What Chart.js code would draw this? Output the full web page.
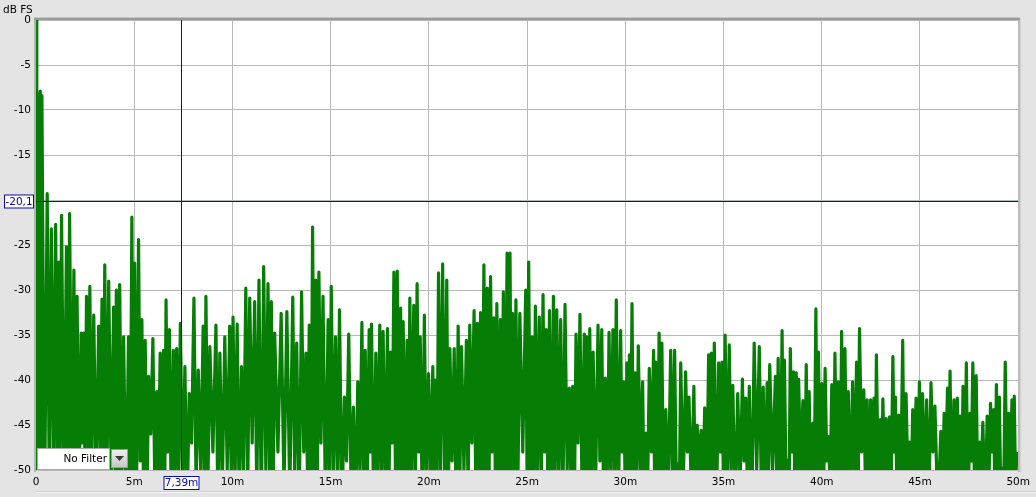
<!DOCTYPE html>
<html>
<head>
<meta charset="utf-8">
<script src="https://cdn.jsdelivr.net/npm/chart.js@4.4.1/dist/chart.umd.min.js"></script>
<style>
  html, body { margin: 0; padding: 0; background: #e4e4e4; }
  #wrap { position: relative; width: 1036px; height: 497px; }
</style>
</head>
<body>
<div id="wrap"><canvas id="irChart"></canvas></div>
<script>
const yUnit = 'dB FS';
const filterText = 'No Filter';
const cursorMs = 7.39;
const cursorDb = -20.1;
const cursorMsText = '7,39m';
const cursorDbText = '-20,1';

// time of each visible spike tip (ms)
const peakMs = [
    0.00, 0.08, 0.15, 0.22, 0.30,
    0.57, 0.78, 1.00, 1.17, 1.30, 1.55, 1.71, 1.93, 2.09, 2.30,
    2.43, 2.57, 2.74, 2.94, 3.19, 3.36, 3.50, 3.70, 3.95, 4.09,
    4.26, 4.46, 4.71, 4.88, 5.02, 5.22, 5.39, 5.56, 5.73, 5.95,
    6.15, 6.32, 6.49, 6.62, 6.79, 6.99, 7.16, 7.35, 7.58, 7.80,
    8.04, 8.26, 8.51, 8.65, 8.85, 9.16, 9.36, 9.61, 9.86, 10.03,
    10.24, 10.46, 10.68, 10.88, 11.13, 11.35, 11.59, 11.81, 11.98, 12.15,
    12.48,
    12.77, 13.07, 13.27, 13.52, 13.74, 13.91, 14.08, 14.24, 14.40, 14.61,
    14.87, 15.03, 15.25, 15.45, 15.70, 15.92, 16.16, 16.38, 16.59, 16.76,
    16.96, 17.08, 17.30, 17.50, 17.67, 17.89, 18.05, 18.22, 18.39, 18.56,
    18.69, 18.89, 19.03, 19.23, 19.40, 19.56, 19.77, 19.98, 20.20, 20.32,
    20.49, 20.70, 20.91, 21.07, 21.29, 21.49, 21.66, 21.91, 22.08, 22.30,
    22.47, 22.63, 22.80, 22.97, 23.14, 23.31, 23.46, 23.64, 23.79, 23.98,
    24.13, 24.26, 24.43, 24.63, 24.93,
    25.08, 25.25, 25.42, 25.62, 25.81, 25.97, 26.14, 26.34, 26.51, 26.71,
    26.93, 27.15, 27.32, 27.49, 27.69, 27.91, 28.03, 28.19, 28.36, 28.61,
    28.80, 28.98, 29.17, 29.37, 29.54, 29.76, 29.91, 30.08, 30.21, 30.34,
    30.50, 30.66, 30.88, 31.05, 31.22, 31.44, 31.55, 31.72, 31.86, 32.06,
    32.31, 32.51, 32.66, 32.82, 33.07, 33.24, 33.49, 33.66, 33.86, 34.04,
    34.24, 34.38, 34.53, 34.75, 34.92, 35.08, 35.29, 35.47, 35.72, 35.96,
    36.13, 36.31, 36.56, 36.82, 37.02, 37.22, 37.35,
    37.64, 37.78, 37.98, 38.10, 38.28, 38.40, 38.57, 38.70, 38.82, 39.04,
    39.21, 39.36, 39.55, 39.70, 39.83, 40.00, 40.17, 40.34, 40.51, 40.67,
    40.84, 41.01, 41.18, 41.35, 41.57, 41.77, 41.92, 42.14, 42.31, 42.49,
    42.66, 42.78, 42.98, 43.11, 43.28, 43.45, 43.62, 43.75, 43.92, 44.12,
    44.29, 44.46, 44.63, 44.80, 44.97, 45.13, 45.34, 45.56, 45.76, 46.06,
    46.23, 46.40, 46.53, 46.73, 46.90, 47.04, 47.19, 47.36, 47.54, 47.69,
    47.86, 48.03, 48.20, 48.42, 48.59, 48.75, 48.89, 49.04, 49.21, 49.34,
    49.51, 49.68, 49.80, 49.93
];

// level of each spike tip (dB FS)
const peakDb = [
    0, -8.1, -10.5, -7.9, -8.4,
    -19.3, -23.2, -22.7, -26.9, -21.7, -25.2, -21.5, -27.8, -30.7, -34.8,
    -34.8, -30.7, -29.6, -32.8, -34.0, -31.0, -27.2, -29.0, -31.9, -30.0,
    -29.4, -35.2, -35.2, -21.9, -27.0, -24.4, -33.3, -35.6, -39.6, -35.4,
    -41.3, -37.0, -36.7, -31.1, -34.4, -36.7, -36.5, -33.7, -38.5, -41.5,
    -30.9, -38.9, -34.0, -30.7, -36.3, -33.9, -37.0, -35.2, -34.0, -33.0,
    -33.8, -38.5, -29.8, -30.9, -31.3, -28.9, -27.4, -29.3, -31.3, -34.8,
    -32.6,
    -32.4, -30.8, -35.9, -30.2, -37.0, -33.9, -23.0, -28.9, -28.0, -30.7,
    -33.3, -29.6, -35.2, -32.2, -41.9, -34.9, -43.0, -40.2, -33.6, -36.7,
    -34.4, -33.8, -37.0, -33.9, -34.6, -34.3, -36.9, -28.0, -27.9, -32.0,
    -33.5, -35.6, -30.9, -31.7, -29.3, -35.2, -32.8, -39.3, -38.5, -40.0,
    -28.1, -27.1, -28.9, -36.5, -36.5, -34.0, -36.3, -35.6, -33.9, -32.3,
    -33.7, -32.5, -27.2, -29.8, -28.5, -33.1, -31.5, -33.3, -30.2, -25.9,
    -25.9, -32.6, -31.1, -32.6, -30.0,
    -26.9, -35.2, -31.8, -33.0, -30.5, -34.4, -32.3, -30.7, -32.2, -33.3,
    -31.6, -40.9, -40.7, -34.9, -32.7, -34.9, -35.2, -34.3, -36.9, -33.9,
    -34.4, -39.8, -34.7, -34.4, -31.1, -34.5, -40.2, -38.1, -37.2, -31.5,
    -39.2, -36.2, -40.2, -45.9, -38.7, -36.7, -38.0, -34.8, -35.9, -43.3,
    -36.7, -36.7, -49.3, -38.1, -39.1, -41.9, -40.7, -45.0, -45.6, -43.1,
    -37.2, -37.0, -35.9, -38.1, -38.0, -35.0, -36.1, -40.6, -41.5, -39.9,
    -42.0, -40.7, -35.9, -36.3, -40.8, -40.3, -38.3,
    -39.6, -37.6, -34.5, -37.8, -48.9, -36.5, -39.1, -39.2, -39.9, -42.3,
    -38.3, -41.3, -44.8, -32.1, -36.9, -40.4, -38.7, -46.3, -40.5, -37.0,
    -40.2, -34.6, -36.5, -41.3, -40.2, -38.0, -34.3, -41.1, -42.2, -42.2,
    -42.0, -37.2, -44.4, -42.1, -44.3, -44.1, -37.4, -41.9, -43.9, -35.6,
    -41.5, -46.9, -43.3, -42.0, -40.2, -41.5, -42.2, -40.3, -42.9, -45.7,
    -43.7, -40.9, -39.0, -42.2, -42.0, -44.0, -40.7, -38.1, -43.7, -38.1,
    -39.5, -46.9, -44.7, -44.0, -42.6, -43.3, -40.5, -41.9, -49.8, -38.0,
    -43.7, -42.2, -41.8, -48.0
];

// lowest level reached between one tip and the next (dB FS)
const dipDb = [
    -50, -52, -50, -52, -55,
    -52, -50, -53, -48, -52, -55, -50, -52, -53, -47,
    -52, -55, -50, -52, -48, -53, -55, -51, -50, -54,
    -52, -55, -53, -50, -52, -49, -53, -55, -46, -52,
    -50, -54, -52, -48, -55, -52, -50, -53, -55, -47,
    -52, -50, -54, -52, -48, -55, -52, -50, -53, -51,
    -55, -50, -52, -47, -53, -55, -50, -52, -54, -48,
    -52,
    -53, -50, -55, -48, -52, -54, -50, -52, -47, -55,
    -52, -50, -53, -55, -49, -52, -55, -50, -52, -53,
    -48, -55, -52, -50, -54, -52, -47, -53, -55, -50,
    -52, -54, -50, -52, -48, -55, -53, -50, -52, -55,
    -50, -52, -54, -49, -55, -52, -50, -53, -47, -52,
    -55, -50, -52, -54, -48, -52, -55, -50, -53, -52,
    -50, -55, -52, -48, -53,
    -52, -55, -50, -53, -48, -52, -55, -50, -52, -54,
    -50, -52, -55, -47, -53, -52, -50, -55, -52, -49,
    -53, -55, -50, -52, -54, -48, -52, -55, -50, -53,
    -52, -50, -55, -52, -48, -54, -52, -50, -55, -53,
    -52, -50, -55, -52, -48, -53, -55, -50, -52, -54,
    -50, -52, -55, -48, -53, -52, -50, -55, -52, -49,
    -53, -55, -50, -52, -54, -52, -50,
    -52, -55, -50, -53, -52, -48, -55, -52, -50, -54,
    -52, -55, -50, -53, -52, -55, -49, -52, -54, -50,
    -55, -52, -50, -53, -52, -55, -48, -52, -54, -50,
    -55, -52, -53, -50, -55, -52, -48, -54, -52, -55,
    -50, -53, -52, -55, -50, -52, -54, -48, -55, -52,
    -50, -53, -55, -52, -50, -54, -52, -55, -49, -52,
    -53, -50, -55, -52, -48, -54, -52, -55, -50, -52,
    -53, -55, -52
];

const fontFamily = '"DejaVu Sans", Tahoma, sans-serif';
const cursorBlue = '#0a0aa8';
const traceGreen = '#067e06';

// tips and dips in time order
const points = [];
peakMs.forEach((t, i) => {
    points.push({ x: t, y: peakDb[i] });
    if (i < peakMs.length - 1 && dipDb[i] !== undefined) {
        points.push({ x: (t + peakMs[i + 1]) / 2, y: dipDb[i] });
    }
});

const chrome = {
    id: 'chrome',
    beforeDraw(chart) {
        const { ctx, chartArea: a } = chart;
        ctx.save();
        ctx.fillStyle = '#e4e4e4';
        ctx.fillRect(0, 0, chart.width, chart.height);
        ctx.fillStyle = '#ffffff';
        ctx.fillRect(a.left, a.top, a.right - a.left, a.bottom - a.top);
        ctx.restore();
    },
    afterDatasetsDraw(chart) {
        const { ctx, chartArea: a, scales } = chart;
        const cx = Math.round(scales.x.getPixelForValue(cursorMs)) + 0.5;
        const cy = Math.round(scales.y.getPixelForValue(cursorDb)) + 0.5;
        ctx.save();

        // frame with shaded top / sides
        ctx.fillStyle = '#9a9a9a';
        ctx.fillRect(a.left - 2, a.top - 2, a.right - a.left + 4, 2);
        ctx.fillStyle = '#c4c4c4';
        ctx.fillRect(a.left - 2, a.top - 3, a.right - a.left + 4, 1);
        ctx.fillStyle = '#b4b4b4';
        ctx.fillRect(a.left - 2, a.top, 2, a.bottom - a.top + 2);
        ctx.fillStyle = '#bcbcbc';
        ctx.fillRect(a.right, a.top, 2, a.bottom - a.top + 2);
        ctx.fillStyle = '#d2d2d2';
        ctx.fillRect(a.right + 2, a.top, 1, a.bottom - a.top + 2);
        ctx.fillStyle = '#b8b8b8';
        ctx.fillRect(a.left, a.bottom, a.right - a.left, 1);

        // bottom strip line
        ctx.fillStyle = '#cfcfcf';
        ctx.fillRect(a.left, chart.height - 6, chart.width - a.left, 1);
        ctx.fillStyle = '#f6f6f6';
        ctx.fillRect(a.left, chart.height - 5, chart.width - a.left, 1);

        // cursor lines
        ctx.strokeStyle = cursorBlue;
        ctx.lineWidth = 1;
        ctx.beginPath();
        ctx.moveTo(cx, a.top);
        ctx.lineTo(cx, a.bottom);
        ctx.moveTo(a.left, cy);
        ctx.lineTo(a.right, cy);
        ctx.stroke();

        // cursor value boxes
        ctx.font = '10.5px ' + fontFamily;
        ctx.textBaseline = 'middle';
        ctx.textAlign = 'center';
        const yBox = { x: 4.5, y: cy - 6.5, w: 29, h: 13 };
        ctx.fillStyle = '#ffffff';
        ctx.fillRect(yBox.x, yBox.y, yBox.w, yBox.h);
        ctx.strokeRect(yBox.x, yBox.y, yBox.w, yBox.h);
        ctx.fillStyle = cursorBlue;
        ctx.fillText(cursorDbText, yBox.x + yBox.w / 2, cy + 0.5);
        const xBox = { x: cx - 17.5, y: a.bottom + 6.5, w: 35, h: 13 };
        ctx.fillStyle = '#ffffff';
        ctx.fillRect(xBox.x, xBox.y, xBox.w, xBox.h);
        ctx.strokeRect(xBox.x, xBox.y, xBox.w, xBox.h);
        ctx.fillStyle = cursorBlue;
        ctx.fillText(cursorMsText, cx, xBox.y + 7);

        // unit label
        ctx.fillStyle = '#000000';
        ctx.textAlign = 'left';
        ctx.textBaseline = 'alphabetic';
        ctx.fillText(yUnit, 3, 13);

        // filter dropdown
        const dx = a.left + 1, dy = a.bottom - 22;
        ctx.fillStyle = '#ffffff';
        ctx.fillRect(dx, dy, 72, 22);
        ctx.strokeStyle = '#a8a8a8';
        ctx.strokeRect(dx + 0.5, dy + 0.5, 72, 21);
        ctx.fillStyle = '#000000';
        ctx.textAlign = 'right';
        ctx.textBaseline = 'middle';
        ctx.fillText(filterText, dx + 70, dy + 11.5);
        const g = ctx.createLinearGradient(0, dy, 0, dy + 20);
        g.addColorStop(0, '#f4f4f4');
        g.addColorStop(1, '#c4c4c4');
        ctx.fillStyle = g;
        ctx.fillRect(dx + 74, dy + 1, 16, 19);
        ctx.strokeStyle = '#9c9c9c';
        ctx.strokeRect(dx + 74.5, dy + 1.5, 16, 18);
        ctx.fillStyle = '#3a3a3a';
        ctx.beginPath();
        ctx.moveTo(dx + 78, dy + 8);
        ctx.lineTo(dx + 87, dy + 8);
        ctx.lineTo(dx + 82.5, dy + 13);
        ctx.closePath();
        ctx.fill();
        ctx.restore();
    }
};

const ctx = document.getElementById('irChart').getContext('2d');
new Chart(ctx, {
    type: 'line',
    data: {
        datasets: [{
            data: points,
            borderColor: traceGreen,
            borderWidth: 3.2,
            borderJoinStyle: 'round',
            pointRadius: 0,
            tension: 0,
            fill: false,
            clip: 0
        }]
    },
    options: {
        responsive: true,
        maintainAspectRatio: false,
        animation: false,
        events: [],
        layout: { padding: { top: 20, right: 14, left: 0, bottom: 0 } },
        plugins: {
            legend: { display: false },
            tooltip: { enabled: false }
        },
        scales: {
            x: {
                type: 'linear',
                min: 0,
                max: 50,
                afterFit: scale => { scale.height = 27; },
                border: { display: false },
                grid: { color: '#b8b8b8', drawTicks: false },
                ticks: {
                    stepSize: 5,
                    padding: 6,
                    maxRotation: 0,
                    autoSkip: false,
                    color: '#000',
                    font: { family: fontFamily, size: 10.5 },
                    callback: v => v === 0 ? '0' : v + 'm'
                }
            },
            y: {
                min: -50,
                max: 0,
                afterFit: scale => { scale.width = 36; },
                border: { display: false },
                grid: { color: '#b8b8b8', drawTicks: false },
                ticks: {
                    stepSize: 5,
                    padding: 5,
                    color: '#000',
                    font: { family: fontFamily, size: 10.5 },
                    callback: v => String(v)
                }
            }
        }
    },
    plugins: [chrome]
});
</script>
</body>
</html>
